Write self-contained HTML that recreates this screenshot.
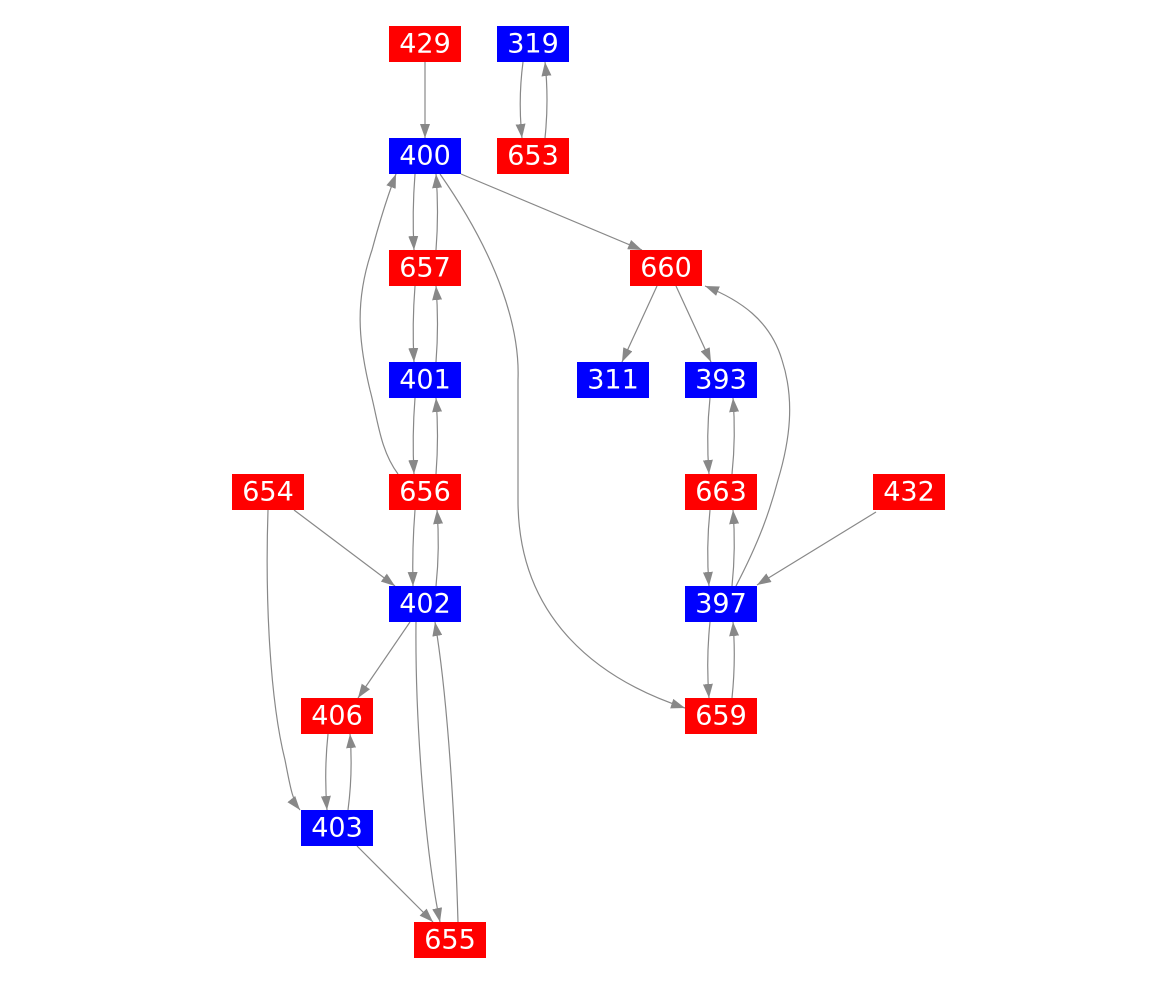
<!DOCTYPE html>
<html><head><meta charset="utf-8"><style>
html,body{margin:0;padding:0;background:#fff;}
svg{display:block;}
text{font-family:"DejaVu Sans","Liberation Sans",sans-serif;font-size:27px;fill:#fff;text-anchor:middle;dominant-baseline:central;}
</style></head><body>
<svg width="1167" height="988" viewBox="0 0 1167 988" xmlns="http://www.w3.org/2000/svg">
<defs><marker id="a" viewBox="0 0 14 10" refX="14" refY="5" markerWidth="14" markerHeight="10" markerUnits="userSpaceOnUse" orient="auto"><path d="M0,0 L14,5 L0,10 Z" fill="#888"/></marker></defs>
<g fill="none" stroke="#888" stroke-width="1.2" marker-end="url(#a)">
<path d="M425,62 L425,138"/>
<path d="M523,62 Q518,100 522,138"/>
<path d="M545,138 Q549,100 545,62"/>
<path d="M415,174 Q412,212 414,250"/>
<path d="M436,250 Q439,212 436,174"/>
<path d="M461,174 L642,250"/>
<path d="M440,174 C500,260 520,330 518,380 L518,500 C518,620 600,680 685,708"/>
<path d="M415,286 Q412,324 414,362"/>
<path d="M436,362 Q439,324 436,286"/>
<path d="M415,398 Q412,436 414,474"/>
<path d="M436,474 Q439,436 436,398"/>
<path d="M398,474 C380,450 378,420 370,390 C358,340 355,300 372,250 C380,220 388,195 396,174"/>
<path d="M657,286 L622,362"/>
<path d="M676,286 L711,362"/>
<path d="M710,398 Q706,436 709,474"/>
<path d="M732,474 Q736,436 733,398"/>
<path d="M710,510 Q706,548 709,586"/>
<path d="M732,586 Q736,548 733,510"/>
<path d="M710,622 Q706,660 709,698"/>
<path d="M732,698 Q736,660 733,622"/>
<path d="M736,586 C760,540 770,510 778,480 C790,440 795,400 782,360 C770,320 740,300 705,286"/>
<path d="M876,512 L757,585"/>
<path d="M294,510 L395,586"/>
<path d="M268,510 C265,600 270,700 285,760 C290,785 292,800 300,810"/>
<path d="M415,510 Q412,548 413,586"/>
<path d="M436,586 Q440,548 437,510"/>
<path d="M410,622 L358,698"/>
<path d="M416,622 C415,720 425,850 440,922"/>
<path d="M458,922 C455,820 448,700 435,622"/>
<path d="M328,734 Q324,772 327,810"/>
<path d="M348,810 Q353,772 350,734"/>
<path d="M357,846 L433,922"/>
</g>
<g>
<rect x="389" y="26" width="72" height="36" fill="#f00"/><text x="425" y="44">429</text>
<rect x="497" y="26" width="72" height="36" fill="#00f"/><text x="533" y="44">319</text>
<rect x="389" y="138" width="72" height="36" fill="#00f"/><text x="425" y="156">400</text>
<rect x="497" y="138" width="72" height="36" fill="#f00"/><text x="533" y="156">653</text>
<rect x="389" y="250" width="72" height="36" fill="#f00"/><text x="425" y="268">657</text>
<rect x="630" y="250" width="72" height="36" fill="#f00"/><text x="666" y="268">660</text>
<rect x="389" y="362" width="72" height="36" fill="#00f"/><text x="425" y="380">401</text>
<rect x="577" y="362" width="72" height="36" fill="#00f"/><text x="613" y="380">311</text>
<rect x="685" y="362" width="72" height="36" fill="#00f"/><text x="721" y="380">393</text>
<rect x="232" y="474" width="72" height="36" fill="#f00"/><text x="268" y="492">654</text>
<rect x="389" y="474" width="72" height="36" fill="#f00"/><text x="425" y="492">656</text>
<rect x="685" y="474" width="72" height="36" fill="#f00"/><text x="721" y="492">663</text>
<rect x="873" y="474" width="72" height="36" fill="#f00"/><text x="909" y="492">432</text>
<rect x="389" y="586" width="72" height="36" fill="#00f"/><text x="425" y="604">402</text>
<rect x="685" y="586" width="72" height="36" fill="#00f"/><text x="721" y="604">397</text>
<rect x="301" y="698" width="72" height="36" fill="#f00"/><text x="337" y="716">406</text>
<rect x="685" y="698" width="72" height="36" fill="#f00"/><text x="721" y="716">659</text>
<rect x="301" y="810" width="72" height="36" fill="#00f"/><text x="337" y="828">403</text>
<rect x="414" y="922" width="72" height="36" fill="#f00"/><text x="450" y="940">655</text>
</g>
</svg>
</body></html>
